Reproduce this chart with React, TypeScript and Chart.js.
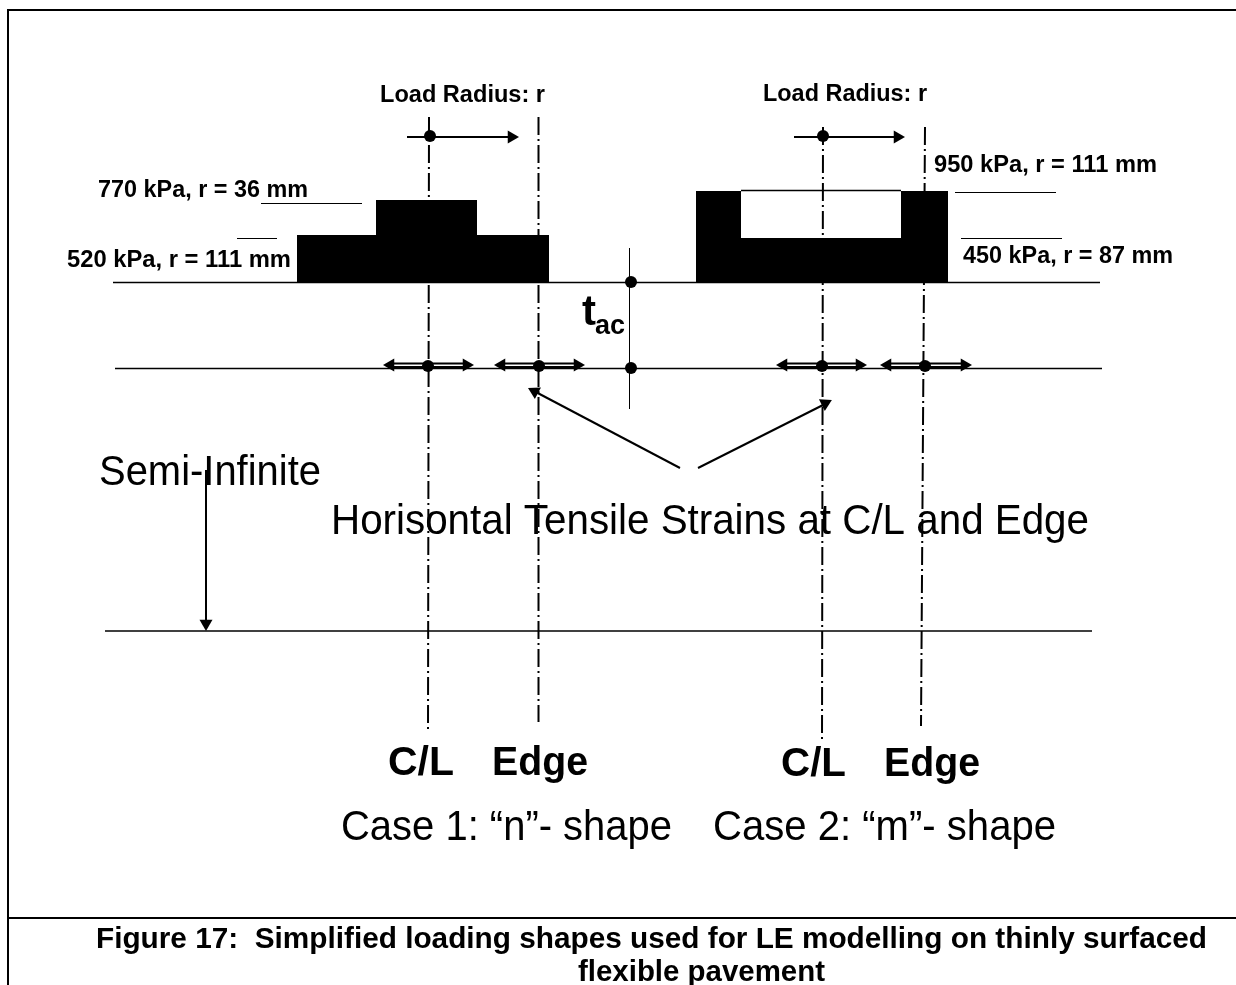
import React, { useEffect, useRef } from "react";
import { Chart, registerables } from "chart.js";

Chart.register(...registerables);

type P = { x: number; y: number };
const pts = (a: number[][]): P[] => a.map(([x, y]) => ({ x, y }));

// Diagram geometry, in picture units
const frameLines = [
  [[7, 10], [1236, 10]],
  [[8, 9], [8, 985]],
];
const captionRule = [[8, 918], [1236, 918]];
const surfaceLines = [
  [[113, 282.5], [1100, 282.5]],
  [[115, 368.5], [1102, 368.5]],
  [[105, 631], [1092, 631]],
];
const thinLines = [
  [[261, 203.5], [362, 203.5]],
  [[237, 238.5], [277, 238.5]],
  [[955, 192.5], [1056, 192.5]],
  [[961, 238.5], [1062, 238.5]],
  [[629.5, 248], [629.5, 409]],
];
const centreLines = [
  [[429, 117], [428, 732]],
  [[538.5, 117], [538.5, 722]],
  [[823, 127], [822, 742]],
  [[925, 127], [921, 726]],
];
const arrowShafts = [
  [[407, 137], [512, 137]],
  [[794, 137], [898, 137]],
  [[389, 363.5], [468, 363.5]], [[389, 367], [468, 367]],
  [[500, 363.5], [579, 363.5]], [[500, 367], [579, 367]],
  [[782, 363.5], [861, 363.5]], [[782, 367], [861, 367]],
  [[886, 363.5], [966, 363.5]], [[886, 367], [966, 367]],
  [[680, 468], [532, 390]],
  [[698, 468], [827, 403]],
  [[206, 470], [206, 626]],
];
const arrowHeads = [
  [511.5, 137, 90], [897.5, 137, 90],
  [390.5, 365, 270], [466.5, 365, 90], [501.5, 365, 270], [577.5, 365, 90],
  [783.5, 365, 270], [859.5, 365, 90], [887.5, 365, 270], [964.5, 365, 90],
  [534.6, 391.5, 298], [825.2, 403.4, 63], [206, 623.5, 180],
];
const dots = [
  [430, 136], [823, 136], [428, 366], [539, 366], [822, 366], [925, 366],
  [631, 282], [631, 368],
];
const shapeN = [[297, 282.5], [297, 235], [376, 235], [376, 200], [477, 200], [477, 235], [549, 235], [549, 282.5]];
const shapeM = [[696, 282.5], [696, 191], [741, 191], [741, 238], [901, 238], [901, 191], [948, 191], [948, 282.5]];
const shapeMTop = [[741, 190.5], [901, 190.5]];

// Text
const smallLabels = ["Load Radius: r", "Load Radius: r", "770 kPa, r = 36 mm", "520 kPa, r = 111 mm", "950 kPa, r = 111 mm", "450 kPa, r = 87 mm"];
const smallBoxes = [[380, 102, 165], [763, 101, 164], [98, 197, 210], [67, 267, 224], [934, 172, 223], [963, 263, 210]];
const largeLabels = ["Semi-Infinite", "Horisontal Tensile Strains at C/L and Edge", "Case 1: “n”- shape", "Case 2: “m”- shape"];
const largeBoxes = [[99, 485, 222], [331, 534, 758], [341, 840, 331], [713, 840, 343]];
const boldLabels = ["C/L", "Edge", "C/L", "Edge"];
const boldBoxes = [[388, 775, 66], [492, 775, 96], [781, 776, 65], [884, 776, 96]];
const captionLines = ["Figure 17:  Simplified loading shapes used for LE modelling on thinly surfaced", "flexible pavement"];
const captionBoxes = [[96, 948, 1111], [578, 981, 247]];

const FONT = '"Liberation Sans", Arial, sans-serif';

const textPlugin = {
  id: "diagramText",
  afterDatasetsDraw(chart: any) {
    const { ctx, scales } = chart;
    const put = (text: string, box: number[], font: string) => {
      const [x, y, w] = box;
      ctx.save();
      ctx.font = font;
      ctx.fillStyle = "#000";
      ctx.textBaseline = "alphabetic";
      ctx.textAlign = "left";
      const natural = ctx.measureText(text).width;
      ctx.translate(scales.x.getPixelForValue(x), scales.y.getPixelForValue(y));
      if (w) ctx.scale(w / natural, 1);
      ctx.fillText(text, 0, 0);
      ctx.restore();
    };
    smallLabels.forEach((t, i) => put(t, smallBoxes[i], `bold 23px ${FONT}`));
    largeLabels.forEach((t, i) => put(t, largeBoxes[i], `42px ${FONT}`));
    boldLabels.forEach((t, i) => put(t, boldBoxes[i], `bold 40px ${FONT}`));
    captionLines.forEach((t, i) => put(t, captionBoxes[i], `bold 30px ${FONT}`));
    put("t", [582, 325, 0], `bold 42px ${FONT}`);
    put("ac", [595, 334, 0], `bold 27px ${FONT}`);
  },
};

const line = (d: number[][], width: number, dash: number[] = []) => ({
  type: "line",
  data: pts(d),
  borderColor: "#000",
  borderWidth: width,
  borderDash: dash,
  pointRadius: 0,
  fill: false,
  tension: 0,
  clip: false,
});

const shape = (d: number[][]) => ({
  type: "line",
  data: pts(d),
  borderColor: "#000",
  backgroundColor: "#000",
  borderWidth: 0,
  pointRadius: 0,
  fill: "shape",
  tension: 0,
  clip: false,
});

export default function App() {
  const ref = useRef<HTMLCanvasElement>(null);
  useEffect(() => {
    const chart = new Chart(ref.current!, {
      type: "scatter",
      data: {
        datasets: [
          {
            type: "scatter",
            data: pts(dots),
            pointStyle: "circle",
            pointRadius: 6,
            pointBackgroundColor: "#000",
            pointBorderWidth: 0,
            showLine: false,
            clip: false,
          },
          {
            type: "scatter",
            data: pts(arrowHeads),
            pointStyle: "triangle",
            pointRadius: 7.5,
            rotation: arrowHeads.map((a) => a[2]),
            pointBackgroundColor: "#000",
            pointBorderWidth: 0,
            showLine: false,
            clip: false,
          },
          ...arrowShafts.map((d) => line(d, 2)),
          shape(shapeN),
          shape(shapeM),
          line(shapeMTop, 1.5),
          ...centreLines.map((d) => line(d, 2, [18, 4, 2, 4])),
          ...surfaceLines.map((d) => line(d, 1.5)),
          ...thinLines.map((d) => line(d, 1)),
          line(captionRule, 2),
          ...frameLines.map((d) => line(d, 2)),
        ] as any,
      },
      options: {
        animation: false,
        responsive: false,
        events: [],
        layout: { padding: 0, autoPadding: false },
        plugins: { legend: { display: false }, tooltip: { enabled: false }, title: { display: false } },
        scales: {
          x: { type: "linear", min: 0, max: 1236, display: false },
          y: { type: "linear", min: 0, max: 985, reverse: true, display: false },
        },
      },
      plugins: [textPlugin],
    } as any);
    return () => chart.destroy();
  }, []);
  return (
    <canvas
      ref={ref}
      width={1236}
      height={985}
      style={{ position: "fixed", left: 0, top: 0, width: 1236, height: 985, background: "#fff" }}
    />
  );
}
